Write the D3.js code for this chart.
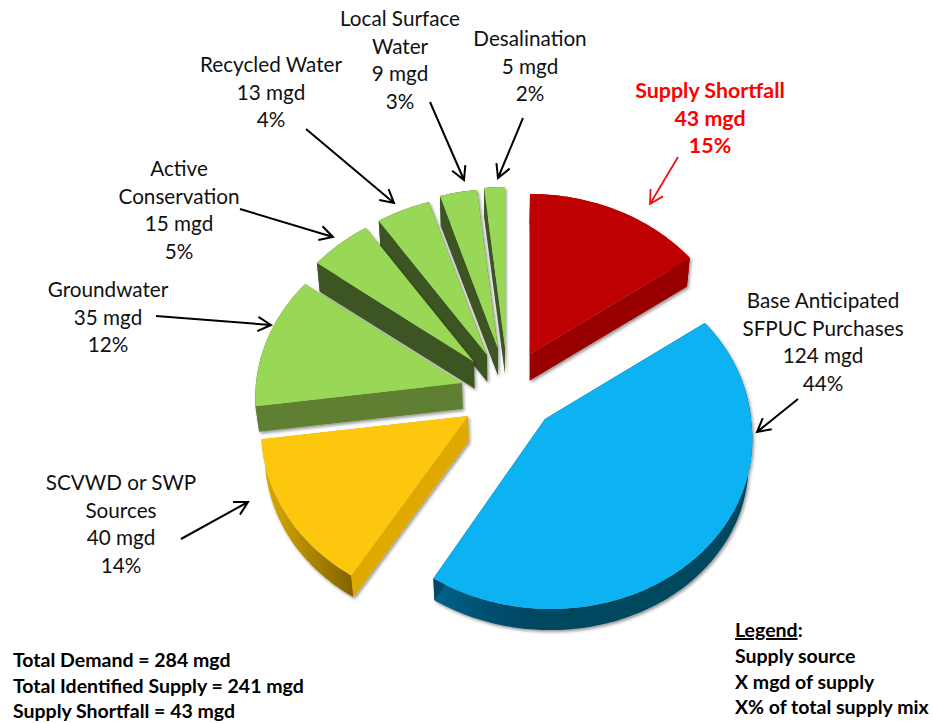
<!DOCTYPE html>
<html><head><meta charset="utf-8">
<script src="https://cdn.jsdelivr.net/npm/d3@7/dist/d3.min.js"></script>
<style>html,body{margin:0;background:#fff}svg{display:block}text{font-family:Lato,"Open Sans",sans-serif}</style>
</head><body><div id="c"></div>
<script>
// ---- data ----
const categories = ["Supply Shortfall","Base Anticipated SFPUC Purchases","SCVWD or SWP Sources","Groundwater","Active Conservation","Recycled Water","Local Surface Water","Desalination"];
const supplyMgd = [43,124,40,35,15,13,9,5];
const shareLabels = ["15%","44%","14%","12%","5%","4%","3%","2%"];
const nameLines = [["Supply Shortfall"],["Base Anticipated","SFPUC Purchases"],["SCVWD or SWP","Sources"],["Groundwater"],["Active","Conservation"],["Recycled Water"],["Local Surface","Water"],["Desalination"]];
const totalsLines = ["Total Demand = 284 mgd","Total Identified Supply = 241 mgd","Supply Shortfall = 43 mgd"];
const legendLines = ["Supply source","X mgd of supply","X% of total supply mix"];

// ---- layout and style ----
const W=933,H=723;
const sliceApex=[[530,354],[545,419],[468,416],[462,383],[474,362],[487,355],[498,349],[505,347]];
const sliceShear=[0,6,0,0,0,0,0,0];
const topColors=["#bf0404","#08b2f3","#fdc70d","#98d857","#98d857","#98d857","#98d857","#98d857"];
const edgeColors=["#980000","#004866","#e0a900","#5f7f30","#3c5420","#3c5420","#3c5420","#3c5420"];
const arcColors=["#980000","url(#blueWall)","url(#yellowWall)","#5f7f30","#3c5420","#3c5420","#3c5420","#3c5420"];
const labelPos=[[710,98],[823,308],[121,490],[108,297],[179,176],[271,72],[400,26],[530,46]];
const arrows=[[[678,157],[650,204]],[[798,399],[757,432]],[[181,539],[248,502]],[[156,316],[271,325]],[[240,209],[333,237]],[[306,129],[394,203]],[[430,102],[464,180]],[[523,118],[498,178]]];
const Rx=206,Ry=173.7,persp=0.0857,lineH=27.7;

const svg=d3.select("#c").append("svg").attr("width",W).attr("height",H);
const defs=svg.append("defs");
const f=defs.append("filter").attr("id","sh").attr("x","-10%").attr("y","-10%").attr("width","125%").attr("height","125%");
f.append("feDropShadow").attr("dx",1.5).attr("dy",2).attr("stdDeviation",1.5).attr("flood-color","#000").attr("flood-opacity",.4);
function grad(id,x1,x2,stops){
  const g=defs.append("linearGradient").attr("id",id).attr("gradientUnits","userSpaceOnUse").attr("x1",x1).attr("x2",x2).attr("y1",0).attr("y2",0);
  stops.forEach(s=>g.append("stop").attr("offset",s[0]).attr("stop-color",s[1]));
}
grad("blueWall",434,540,[[0,"#00628a"],[.5,"#004f70"],[1,"#004661"]]);
grad("yellowWall",262,356,[[0,"#dcae00"],[.5,"#b08600"],[1,"#7f6000"]]);

const pie=d3.pie().sort(null).value(d=>d);
const arcsData=pie(supplyMgd);
const line=d3.line();
function proj(i,a){ // clockwise angle a on the tilted disc -> screen
  const Y=-Math.cos(a), w=1-persp*Y;
  return [sliceApex[i][0]+Rx*Math.sin(a)/w+sliceShear[i]*Math.max(Y,0), sliceApex[i][1]+Ry*Y/w];
}
function low(p){return [p[0]+0.015*(500-p[0]), p[1]+0.022*(1570-p[1])];}

const order=[7,6,5,4,3,0,2,1];
order.forEach(i=>{
  const d=arcsData[i];
  const n=Math.max(4,Math.ceil((d.endAngle-d.startAngle)*60));
  const angles=d3.range(n+1).map(k=>d.startAngle+(d.endAngle-d.startAngle)*k/n);
  const rim=angles.map(a=>proj(i,a));
  const apex=sliceApex[i];
  const g=svg.append("g").attr("filter","url(#sh)");
  const rimLow=rim.map(low);
  g.append("path").attr("d",line([...rim,...rimLow.slice().reverse()])+"Z").attr("fill",arcColors[i]);
  [rim[0],rim[n]].forEach(e=>{
    g.append("path").attr("d",line([apex,e,low(e),low(apex)])+"Z").attr("fill",edgeColors[i]);
  });
  g.append("path").attr("d",line([apex,...rim])+"Z").attr("fill",topColors[i]);
});

// arrows
arrows.forEach((a,i)=>{
  const [s,t]=a, ang=Math.atan2(t[1]-s[1],t[0]-s[0]), L=15, sp=0.5;
  const col=i===0?"#ee1111":"#000";
  const hd=k=>[t[0]-L*Math.cos(ang+k*sp),t[1]-L*Math.sin(ang+k*sp)];
  svg.append("path").attr("d",line([s,t])+line([hd(1),t,hd(-1)])).attr("fill","none").attr("stroke",col).attr("stroke-width",i===0?1.8:2);
});

// labels
categories.forEach((c,i)=>{
  const lines=[...nameLines[i],supplyMgd[i]+" mgd",shareLabels[i]];
  const t=svg.append("text").attr("text-anchor","middle").attr("font-size",i===0?21.4:20.7)
    .attr("font-weight",i===0?700:400).attr("fill",i===0?"#ff0000":"#111");
  lines.forEach((l,k)=>t.append("tspan").attr("x",labelPos[i][0]).attr("y",labelPos[i][1]+k*lineH).text(l));
});

// totals and legend
totalsLines.forEach((l,k)=>svg.append("text").attr("x",13).attr("y",667+k*25.5).attr("font-size",19.5).attr("font-weight",700).attr("fill","#000").text(l));
const lg=svg.append("text").attr("x",735).attr("y",637).attr("font-size",19.5).attr("font-weight",700).attr("fill","#000");
lg.append("tspan").attr("text-decoration","underline").text("Legend");
lg.append("tspan").text(":");
legendLines.forEach((l,k)=>svg.append("text").attr("x",735).attr("y",663+k*25.7).attr("font-size",19.5).attr("font-weight",700).attr("fill","#000").text(l));
</script></body></html>
